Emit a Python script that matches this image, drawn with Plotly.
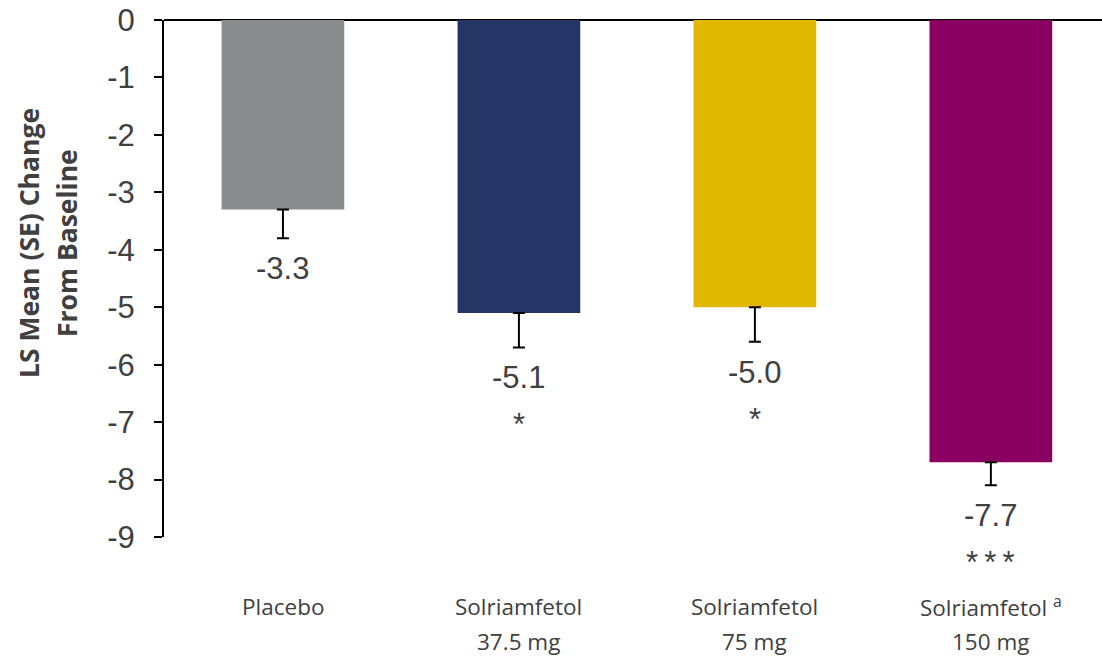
import plotly.graph_objects as go

# Treatment groups and their LS mean change from baseline
groups = ["Placebo", "Solriamfetol 37.5 mg", "Solriamfetol 75 mg", "Solriamfetol 150 mg"]
label_line1 = ["Placebo", "Solriamfetol", "Solriamfetol", "Solriamfetol <sup>a</sup>"]
label_line2 = ["", "37.5 mg", "75 mg", "150 mg"]
ls_mean = [-3.3, -5.1, -5.0, -7.7]
se = [0.5, 0.6, 0.6, 0.4]
significance = ["", "*", "*", "*\u2009*\u2009*"]
bar_colors = ["#8A8B8D", "#243566", "#E1B700", "#8A0062"]

y_ticks = [0, -1, -2, -3, -4, -5, -6, -7, -8, -9]
y_title_lines = ["LS Mean (SE) Change", "From Baseline"]

text_color = "#404040"
num_font = dict(family="Liberation Sans, Arial", size=31, color=text_color)
cat_font = dict(family="Open Sans, Noto Sans", size=22.5, color=text_color)

fig = go.Figure()
fig.add_trace(go.Bar(
    x=groups,
    y=ls_mean,
    marker=dict(color=bar_colors, line=dict(width=0)),
    width=0.52,
    error_y=dict(
        type="data",
        symmetric=False,
        array=[0] * len(se),
        arrayminus=se,
        color="black",
        thickness=2,
        width=6,
    ),
    hoverinfo="x+y",
))

annotations = []

# Value labels under each error bar, with significance markers below
for g, m, s, sig in zip(groups, ls_mean, se, significance):
    label_y = m - s - 0.53
    annotations.append(dict(
        x=g, y=label_y, xref="x", yref="y",
        text=f"{m:.1f}", showarrow=False,
        font=num_font, yanchor="middle",
    ))
    if sig:
        annotations.append(dict(
            x=g, y=label_y, xref="x", yref="y", yshift=-47,
            text=sig, showarrow=False,
            font=num_font, yanchor="middle",
        ))

# Two-line category labels below the plot
for g, l1, l2 in zip(groups, label_line1, label_line2):
    annotations.append(dict(
        x=g, y=0, xref="x", yref="paper", yshift=-69,
        text=l1, showarrow=False, font=cat_font, yanchor="middle",
    ))
    if l2:
        annotations.append(dict(
            x=g, y=0, xref="x", yref="paper", yshift=-104,
            text=l2, showarrow=False, font=cat_font, yanchor="middle",
        ))

# Y-axis title, one annotation per line
for i, line in enumerate(y_title_lines):
    annotations.append(dict(
        x=0, y=1, xref="paper", yref="paper",
        xshift=-135 + 38 * i, yshift=-223,
        text=f"<b>{line}</b>",
        textangle=-90, showarrow=False,
        font=dict(family="Open Sans, Noto Sans", size=26.5, color=text_color),
        xanchor="center", yanchor="middle",
    ))

fig.update_layout(
    width=1102, height=656,
    margin=dict(l=164, r=0, t=20, b=119),
    paper_bgcolor="white",
    plot_bgcolor="white",
    showlegend=False,
    annotations=annotations,
    xaxis=dict(
        range=[-0.504, 3.471],
        showticklabels=False,
        showline=False,
        showgrid=False,
        ticks="",
        fixedrange=True,
    ),
    yaxis=dict(
        range=[-9, 0],
        tickvals=y_ticks,
        ticktext=[str(v) for v in y_ticks],
        showgrid=False,
        showline=True,
        linecolor="black",
        linewidth=2,
        ticks="outside",
        ticklen=8,
        tickwidth=2,
        tickcolor="black",
        zeroline=True,
        zerolinecolor="black",
        zerolinewidth=2,
        tickfont=num_font,
        ticklabelstandoff=13,
    ),
)

fig.write_html("out.html")
